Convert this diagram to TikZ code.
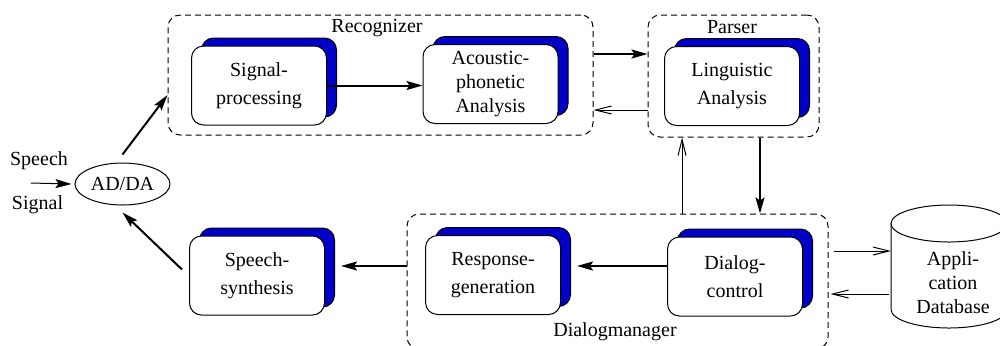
\documentclass[tikz,border=0pt]{standalone}
\usepackage{fontspec}
\setmainfont{Liberation Serif}
\usetikzlibrary{shapes.geometric,shadows,arrows.meta,fit}
\definecolor{modblue}{RGB}{0,0,200}
\begin{document}
\begin{tikzpicture}[x=0.5pt,y=-0.5pt,line width=0.5pt,font=\fontsize{10}{12}\selectfont]
	\tikzset{module/.style={draw,fill=white,rounded corners=6pt,minimum width=67.5pt,minimum height=39.5pt,align=center,
			copy shadow={shadow xshift=5pt,shadow yshift=4pt,fill=modblue,draw=black}},
		group/.style={draw,dash pattern=on 3pt off 2pt,rounded corners=6pt,inner sep=0pt},
		thk/.style={line width=1pt,-{Stealth[length=8pt,width=4.5pt,inset=1.5pt]}},
		thn/.style={-{Straight Barb[length=8pt,width=4pt]}}}
	\useasboundingbox (0,0) rectangle (1000,345);
	\clip (0,0) rectangle (1000,345);
	% Gruppen
	\node[group,fit={(168,15) (593,135)}] (rec) {};
	\node[group,fit={(648,15) (819,137)}] (par) {};
	\node[group,fit={(407,214) (828,349)}] (dm) {};
	\node (reclbl) at (377,28) {Recognizer};
	\node (parlbl) at (732,27) {Parser};
	\node (dmlbl) at (615,332) {Dialogmanager};
	% Module
	\node[module] (sig) at (259,85.5) {Signal-\\[2pt]processing};
	\node[module] (aco) at (490.5,84) {Acoustic-\\phonetic\\Analysis};
	\node[module] (lin) at (732,86) {Linguistic\\[2pt]Analysis};
	\node[module] (syn) at (257,275.5) {Speech-\\[2pt]synthesis};
	\node[module] (res) at (493,275) {Response-\\[2pt]generation};
	\node[module] (dia) at (735,276.5) {Dialog-\\[2pt]control};
	% Wandler
	\node[draw,ellipse,minimum width=47.5pt,minimum height=21pt,inner sep=0pt] (adda) at (122.5,184) {AD/DA};
	\node (sp) at (39,161) {Speech};
	\node (sg) at (37.5,205) {Signal};
	\coordinate (spin) at (31,183);
	% Datenbank
	\draw (891,223.5) -- (891,309.5) arc[start angle=180,end angle=360,x radius=29pt,y radius=9.25pt] -- (1007,223.5);
	\draw (949,223.5) ellipse [x radius=29pt,y radius=9.25pt];
	\node[align=center] (db) at (953,283) {Appli-\\cation\\Database};
	\coordinate (din) at (891,251);
	\coordinate (dout) at (889,294);
	% Verbindungen
	\coordinate (rp1) at (0,54);
	\coordinate (rp2) at (0,110);
	\coordinate (pd1) at (760,0);
	\coordinate (pd2) at (682,0);
	\coordinate (dr) at (0,266);
	\draw[-{Stealth[length=8pt,width=4.5pt,inset=1.5pt]}] (spin) -- ([xshift=-1.5pt]adda.west);
	\draw[thk] ([yshift=4pt]adda.north) -- ([yshift=-10pt]rec.west);
	\draw[thk] (sig.east) -- (sig.east -| aco.west);
	\draw[thk] (rec.east |- rp1) -- (par.west |- rp1);
	\draw[thn] (par.west |- rp2) -- (rec.east |- rp2);
	\draw[thk] (par.south -| pd1) -- (dm.north -| pd1);
	\draw[thn] (dm.north -| pd2) -- (par.south -| pd2);
	\draw[thk] (dia.west |- dr) -- ([xshift=8pt]res.east |- dr);
	\draw[thk] (dm.west |- dr) -- ([xshift=8pt]syn.east |- dr);
	\draw[thk] ([shift={(-3.5pt,3pt)}]syn.west) -- ([yshift=-3.5pt]adda.south);
	\draw[thn] ([xshift=2.5pt]dm.east |- din) -- (din);
	\draw[thn] (dout) -- ([xshift=1pt]dm.east |- dout);
\end{tikzpicture}
\end{document}
